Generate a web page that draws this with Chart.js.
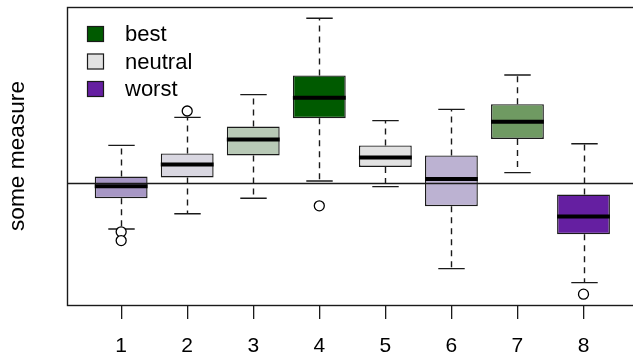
<!DOCTYPE html>
<html lang="en">
<head>
  <meta charset="UTF-8" />
  <title>Boxplot - some measure</title>
  <script src="https://cdn.jsdelivr.net/npm/chart.js"></script>
  <style>
    html, body { margin: 0; padding: 0; background: #fff; overflow: hidden; }
    /* a little wider than the window so the right edge of the plot box falls outside it */
    #wrap { width: 640px; height: 356px; }
  </style>
</head>
<body>
  <div id="wrap"><canvas id="boxChart"></canvas></div>

  <script>
    // groups on the x axis
    const groups = [1, 2, 3, 4, 5, 6, 7, 8];

    // box statistics per group
    const whiskerLow  = [-1.15, -0.77, -0.38, 0.05, -0.09, -2.14, 0.26, -2.49];
    const q1          = [-0.38,  0.14,  0.69, 1.62,  0.40, -0.58, 1.10, -1.28];
    const median      = [-0.08,  0.46,  1.09, 2.13,  0.64,  0.10, 1.53, -0.84];
    const q3          = [ 0.16,  0.74,  1.41, 2.69,  0.94,  0.69, 1.97, -0.29];
    const whiskerHigh = [ 0.94,  1.64,  2.21, 4.12,  1.56,  1.84, 2.70,  0.98];

    // outliers
    const outlierGroup = [1, 1, 2, 4, 8];
    const outlierValue = [-1.22, -1.44, 1.80, -0.57, -2.78];

    const boxColors = ['#a797c5', '#d9d7e1', '#b8c9b6', '#005a00', '#e2e2e2', '#bcb2d2', '#6f9a62', '#651fa1'];

    const legendLabels = ['best', 'neutral', 'worst'];
    const legendColors = ['#005a00', '#e2e2e2', '#651fa1'];

    const fontFamily = "'Liberation Sans', Arial, sans-serif";
    Chart.defaults.font.family = fontFamily;

    // whiskers, medians, zero line, frame and legend
    const boxExtras = {
      id: 'boxExtras',
      beforeDatasetsDraw(chart) {
        const { ctx, scales: { x, y } } = chart;
        const capHalf = (x.getPixelForValue(1.2) - x.getPixelForValue(1));
        ctx.save();
        ctx.strokeStyle = '#1a1a1a';
        ctx.lineWidth = 1.4;
        groups.forEach((g, i) => {
          const px = Math.round(x.getPixelForValue(g)) + 0.5;
          ctx.setLineDash([6, 5]);
          ctx.beginPath();
          ctx.moveTo(px, y.getPixelForValue(q3[i]));
          ctx.lineTo(px, y.getPixelForValue(whiskerHigh[i]));
          ctx.moveTo(px, y.getPixelForValue(q1[i]));
          ctx.lineTo(px, y.getPixelForValue(whiskerLow[i]));
          ctx.stroke();
          ctx.setLineDash([]);
          ctx.beginPath();
          const hi = y.getPixelForValue(whiskerHigh[i]);
          const lo = y.getPixelForValue(whiskerLow[i]);
          ctx.moveTo(px - capHalf, hi);
          ctx.lineTo(px + capHalf, hi);
          ctx.moveTo(px - capHalf, lo);
          ctx.lineTo(px + capHalf, lo);
          ctx.stroke();
        });
        ctx.restore();
      },
      afterDatasetsDraw(chart) {
        const { ctx, chartArea: a, scales: { x, y } } = chart;
        const boxHalf = (x.getPixelForValue(1.4) - x.getPixelForValue(1));
        ctx.save();

        // medians
        ctx.strokeStyle = '#000';
        ctx.lineWidth = 4;
        groups.forEach((g, i) => {
          const px = x.getPixelForValue(g);
          const my = y.getPixelForValue(median[i]);
          ctx.beginPath();
          ctx.moveTo(px - boxHalf, my);
          ctx.lineTo(px + boxHalf, my);
          ctx.stroke();
        });

        // reference line at 0
        const zy = Math.round(y.getPixelForValue(0)) + 0.5;
        ctx.lineWidth = 1.3;
        ctx.strokeStyle = '#1a1a1a';
        ctx.beginPath();
        ctx.moveTo(a.left, zy);
        ctx.lineTo(a.right, zy);
        ctx.stroke();

        // plot frame
        ctx.lineWidth = 1.4;
        ctx.strokeRect(a.left + 0.5, a.top + 0.5, a.right - a.left, a.bottom - a.top);

        // legend
        ctx.font = '22px ' + fontFamily;
        ctx.textBaseline = 'middle';
        ctx.textAlign = 'left';
        legendLabels.forEach((lab, i) => {
          const cy = a.top + 27 + i * 27.5;
          ctx.fillStyle = legendColors[i];
          ctx.fillRect(87, cy - 8, 17, 16);
          ctx.lineWidth = 1.2;
          ctx.strokeStyle = '#1a1a1a';
          ctx.strokeRect(87.5, cy - 7.5, 16, 15);
          ctx.fillStyle = '#000';
          ctx.fillText(lab, 125, cy + 1);
        });

        ctx.restore();
      }
    };

    const ctx = document.getElementById('boxChart').getContext('2d');
    new Chart(ctx, {
      type: 'bar',
      data: {
        datasets: [
          {
            type: 'bar',
            data: groups.map((g, i) => ({ x: g, y: [q1[i], q3[i]] })),
            backgroundColor: boxColors,
            borderColor: '#1a1a1a',
            borderWidth: 1.4,
            borderSkipped: false,
            barPercentage: 0.8,
            categoryPercentage: 1,
            grouped: false
          },
          {
            type: 'scatter',
            data: outlierGroup.map((g, i) => ({ x: g, y: outlierValue[i] })),
            pointRadius: 5,
            pointBackgroundColor: '#fff',
            pointBorderColor: '#000',
            pointBorderWidth: 1.3
          }
        ]
      },
      options: {
        responsive: true,
        maintainAspectRatio: false,
        animation: false,
        layout: { padding: { top: 7, right: 0, left: 4, bottom: 0 } },
        plugins: {
          legend: { display: false },
          tooltip: { enabled: false }
        },
        scales: {
          x: {
            type: 'linear',
            min: 0.18,
            max: 8.76,
            offset: false,
            afterBuildTicks: axis => { axis.ticks = groups.map(v => ({ value: v })); },
            afterFit: axis => { axis.height = 51; },
            grid: { drawOnChartArea: false, offset: false, tickLength: 14, color: '#1a1a1a', lineWidth: 1.3 },
            border: { display: false },
            ticks: {
              color: '#000',
              font: { size: 21, lineHeight: 1 },
              padding: 17,
              callback: v => String(v)
            }
          },
          y: {
            min: -3.05,
            max: 4.4,
            afterFit: axis => { axis.width = 63; },
            ticks: { display: false },
            grid: { display: false },
            border: { display: false },
            title: {
              display: true,
              text: 'some measure',
              color: '#000',
              font: { size: 22.7 },
              padding: { top: 0, bottom: 0 }
            }
          }
        }
      },
      plugins: [boxExtras]
    });
  </script>
</body>
</html>
